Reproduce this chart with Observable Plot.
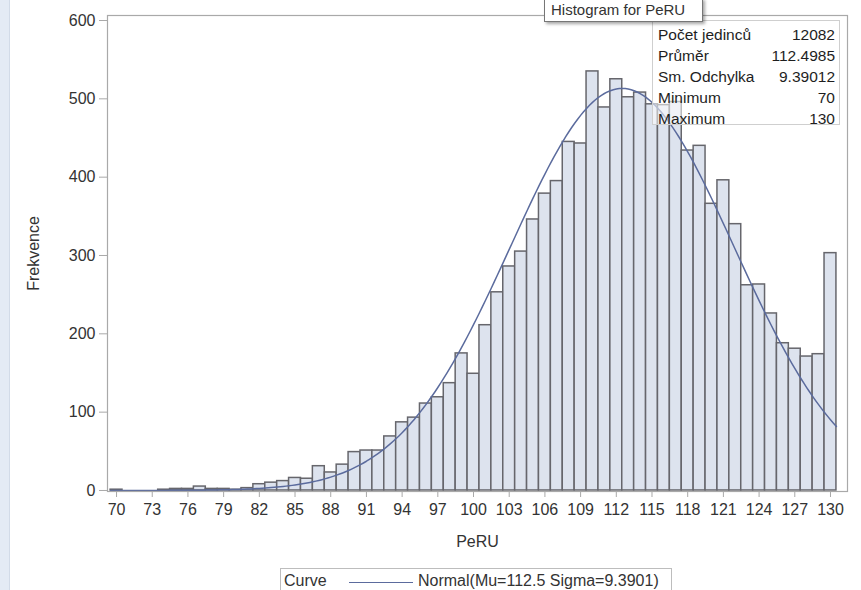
<!DOCTYPE html>
<html>
<head>
<meta charset="utf-8">
<script src="https://cdn.jsdelivr.net/npm/d3@7"></script>
<script src="https://cdn.jsdelivr.net/npm/@observablehq/plot@0.6"></script>
<style>
  body { margin: 0; background: #fff; font-family: "Liberation Sans", Arial, sans-serif; }
  #wrap { position: relative; width: 861px; height: 590px; overflow: hidden; background: #fff; }
  #strip { position: absolute; left: 0; top: 0; width: 9px; height: 590px; background: #e4ebf5; border-right: 1px solid #d2dbe8; }
  #chart { position: absolute; left: 0; top: 0; }
  #stats { position: absolute; left: 652px; top: 20px; width: 188px; height: 105px; box-sizing: border-box;
           border: 1px solid #cfcfcf; background: rgba(255,255,255,0.55); font-size: 15.5px; color: #1e1e1e; padding: 3px 4px 0 5px; }
  #stats .row { display: flex; justify-content: space-between; height: 21px; line-height: 21px; }
  #tip { position: absolute; left: 544px; top: -2px; width: 159px; height: 24px; box-sizing: border-box;
         border: 1px solid #767676; background: #fff; box-shadow: 2px 2px 3px rgba(0,0,0,0.35);
         font-size: 15px; color: #333; line-height: 22px; padding-left: 6px; white-space: nowrap; }
  #legend { position: absolute; left: 280px; top: 568px; width: 392px; height: 30px; box-sizing: border-box;
            border: 1px solid #bdbdbd; font-size: 16px; color: #333; }
  #legend span { position: absolute; top: 3px; white-space: nowrap; }
  #legend .ln { position: absolute; left: 68px; top: 13px; width: 64px; height: 0; border-top: 1.5px solid #5b6b9d; }
</style>
</head>
<body>
<div id="wrap">
  <div id="strip"></div>
  <div id="chart"></div>
  <div id="stats"></div>
  <div id="tip">Histogram for PeRU</div>
  <div id="legend"><span style="left:3px">Curve</span><div class="ln"></div><span style="left:137px">Normal(Mu=112.5 Sigma=9.3901)</span></div>
</div>
<script>
// Histogram bins (PeRU value, bin width 1) and frequencies
const bins = [70,71,72,73,74,75,76,77,78,79,80,81,82,83,84,85,86,87,88,89,90,91,92,93,94,95,96,97,98,99,
              100,101,102,103,104,105,106,107,108,109,110,111,112,113,114,115,116,117,118,119,
              120,121,122,123,124,125,126,127,128,129,130];
const counts = [1,0,0,0,1,2,2,5,2,2,1,3,8,10,12,16,15,31,23,33,49,51,51,69,87,93,111,119,137,175,
                149,211,253,286,305,346,379,395,445,443,535,489,525,502,508,493,492,496,434,440,
                366,396,340,262,263,226,188,181,171,174,303];
const xTicks = [70,73,76,79,82,85,88,91,94,97,100,103,106,109,112,115,118,121,124,127,130];
const yTicks = [0,100,200,300,400,500,600];
// Statistics box and fitted normal curve parameters
const statLabels = ["Počet jedinců","Průměr","Sm. Odchylka","Minimum","Maximum"];
const statValues = ["12082","112.4985","9.39012","70","130"];
const nObs = 12082, mu = 112.4985, sigma = 9.39012, binWidth = 1;

const hist = bins.map((b, i) => ({x1: b - binWidth/2, x2: b + binWidth/2, y: counts[i]}));
const curveX = d3.range(69.5, 130.5001, 0.25);
const curve = curveX.map(x => ({x, y: nObs * binWidth / (sigma * Math.sqrt(2*Math.PI)) * Math.exp(-0.5*((x-mu)/sigma)**2)}));

const chart = Plot.plot({
  width: 861,
  height: 560,
  marginLeft: 107,
  marginRight: 14,
  marginTop: 15,
  marginBottom: 69,
  style: {fontFamily: '"Liberation Sans", Arial, sans-serif', fontSize: "16px", color: "#333", background: "transparent"},
  x: {domain: [69.24, 131.43]},
  y: {domain: [-1.3, 606.4]},
  marks: [
    Plot.rectY(hist, {x1: "x1", x2: "x2", y1: 0, y2: "y", fill: "#dde3ee", stroke: "#66666c", strokeWidth: 1.5}),
    Plot.line(curve, {x: "x", y: "y", stroke: "#5b6b9d", strokeWidth: 1.5, curve: "linear"}),
    Plot.frame({stroke: "#a9a9a9", strokeWidth: 1.2}),
    Plot.axisY({ticks: yTicks, tickSize: 8, tickPadding: 4, stroke: "#a9a9a9", label: "Frekvence", labelAnchor: "center", labelArrow: "none", labelOffset: 80}),
    Plot.axisX({ticks: xTicks, tickSize: 6, tickPadding: 6, stroke: "#a9a9a9", label: "PeRU", labelAnchor: "center", labelArrow: "none", labelOffset: 55})
  ]
});
document.getElementById("chart").appendChild(chart);

const stats = document.getElementById("stats");
statLabels.forEach((l, i) => {
  const r = document.createElement("div");
  r.className = "row";
  r.innerHTML = `<span>${l}</span><span>${statValues[i]}</span>`;
  stats.appendChild(r);
});
</script>
</body>
</html>
